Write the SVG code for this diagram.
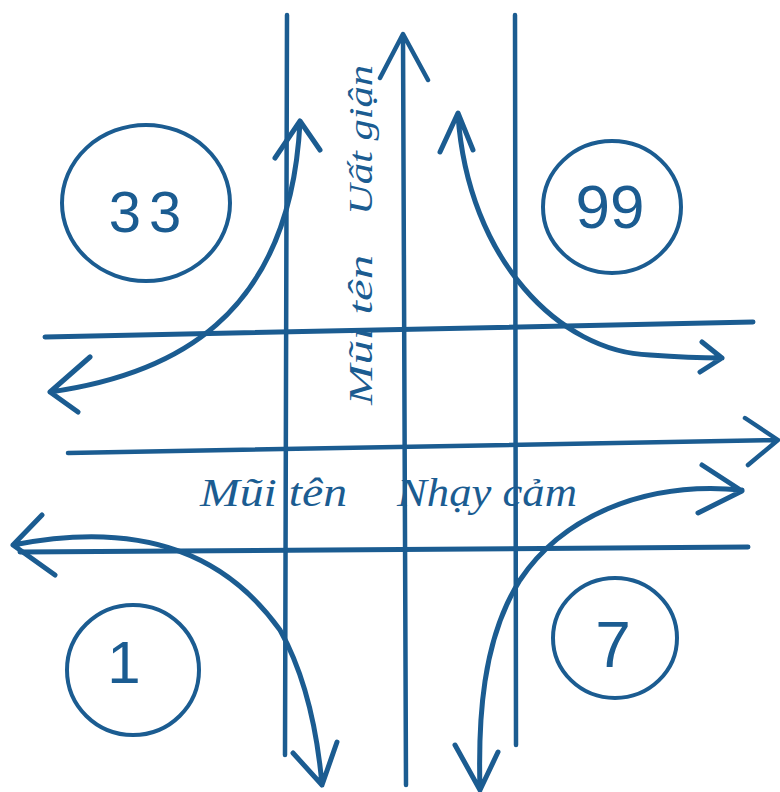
<svg xmlns="http://www.w3.org/2000/svg" width="780" height="792" viewBox="0 0 780 792">
<style>
.l{stroke:#1b5c91;stroke-width:4.5;fill:none;stroke-linecap:round;stroke-linejoin:round}
.k{stroke-width:5}
.c{stroke:#1b5c91;stroke-width:4;fill:none}
.t{fill:#1b5c91;font-family:"Liberation Serif",serif;font-style:italic}
.n{fill:#1b5c91;font-family:"Liberation Sans",sans-serif}
</style>
<rect width="780" height="792" fill="#ffffff"/>
<g id="grid">
<path class="l" d="M287,15 L285,755"/>
<path class="l" d="M515,15 L516,745"/>
<path class="l" d="M406,785 L403,35 M380,78 L403,34 L428,80"/>
<path class="l k" d="M45,337 L753,322"/>
<path class="l" d="M68,453 L776,440 M745,418 L778,440 L748,465"/>
<path class="l k" d="M20,552 L748,547"/>
</g>
<g id="curves">
<path class="l k" d="M50,392 C170,375 290,320 300,122 M90,357 L50,392 L78,412 M275,158 L300,121 L320,150"/>
<path class="l k" d="M458,115 C468,260 560,352 650,355 Q690,358 722,358 M702,342 L722,358 L700,372 M440,152 L458,113 L473,150"/>
<path class="l k" d="M13,545 C150,518 230,560 280,630 C308,680 318,740 322,785 M42,515 L13,545 L55,575 M293,753 L322,785 L337,742"/>
<path class="l k" d="M742,490 C640,480 560,520 520,580 C482,640 478,720 480,790 M455,745 L480,790 L498,752 M702,465 L742,491 L698,513"/>
</g>
<g id="n33">
<ellipse class="c" cx="146" cy="203" rx="84" ry="78"/>
<text class="n" x="149" y="232" font-size="58" text-anchor="middle" letter-spacing="8">33</text>
</g>
<g id="n99">
<ellipse class="c" cx="612" cy="207" rx="69" ry="66"/>
<text class="n" x="610" y="228" font-size="62" text-anchor="middle">99</text>
</g>
<g id="n1">
<ellipse class="c" cx="133" cy="670" rx="66" ry="65"/>
<text class="n" x="124" y="683" font-size="60" text-anchor="middle">1</text>
</g>
<g id="n7">
<ellipse class="c" cx="615" cy="638" rx="62" ry="60"/>
<text class="n" x="613" y="667" font-size="64" text-anchor="middle">7</text>
</g>
<g id="labels">
<text class="t" transform="translate(372,405) rotate(-90)" font-size="34" textLength="150" lengthAdjust="spacingAndGlyphs">Mũi tên</text>
<text class="t" transform="translate(372,215) rotate(-90)" font-size="34" textLength="150" lengthAdjust="spacingAndGlyphs">Uất giận</text>
<text class="t" x="200" y="506" font-size="40" textLength="147" lengthAdjust="spacingAndGlyphs">Mũi tên</text>
<text class="t" x="397" y="506" font-size="40" textLength="180" lengthAdjust="spacingAndGlyphs">Nhạy cảm</text>
</g>
</svg>
